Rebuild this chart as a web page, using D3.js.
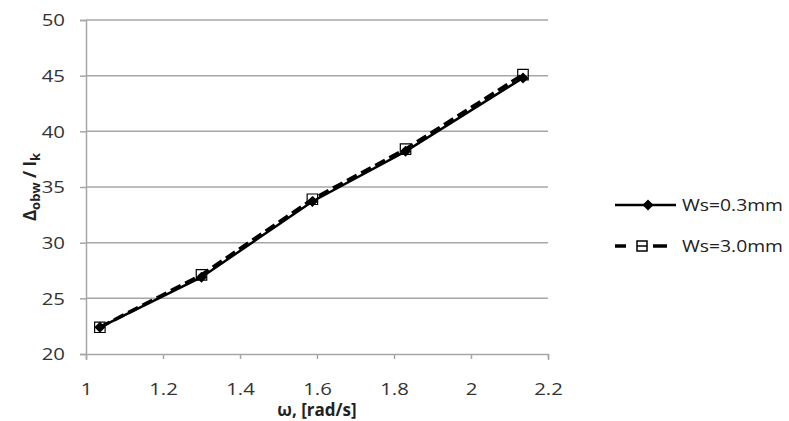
<!DOCTYPE html>
<html>
<head>
<meta charset="utf-8">
<script src="https://cdn.jsdelivr.net/npm/d3@7"></script>
<style>
  body { margin: 0; background: #fff; }
  text { font-family: "Open Sans", "DejaVu Sans", sans-serif; }
</style>
</head>
<body>
<div id="chart"></div>
<script>
const omega = [1.036, 1.30, 1.588, 1.83, 2.135];
const ws03 = [22.4, 26.9, 33.7, 38.2, 44.8];
const ws30 = [22.4, 27.1, 33.9, 38.4, 45.1];
const xTicks = [1, 1.2, 1.4, 1.6, 1.8, 2, 2.2];
const yTicks = [20, 25, 30, 35, 40, 45, 50];
const seriesNames = ["Ws=0.3mm", "Ws=3.0mm"];

const W = 789, H = 421;
const margin = { top: 20, left: 86, right: 241, bottom: 67 };
const width = W - margin.left - margin.right;
const height = H - margin.top - margin.bottom;

const svg = d3.select("#chart").append("svg")
  .attr("width", W).attr("height", H);

const g = svg.append("g")
  .attr("transform", `translate(${margin.left},${margin.top})`);

const x = d3.scaleLinear().domain([1, 2.2]).range([0, width]);
const y = d3.scaleLinear().domain([20, 50]).range([height, 0]);

// gridlines
g.selectAll(".grid")
  .data(yTicks.slice(1))
  .enter().append("line")
  .attr("x1", 0).attr("x2", width)
  .attr("y1", d => y(d)).attr("y2", d => y(d))
  .attr("stroke", "#a6a6a6").attr("stroke-width", 1.5);

const xAxis = g.append("g")
  .attr("transform", `translate(0,${height})`)
  .call(d3.axisBottom(x).tickValues(xTicks).tickFormat(d3.format("")).tickSize(6));
const yAxis = g.append("g")
  .call(d3.axisLeft(y).tickValues(yTicks).tickSize(6));

[xAxis, yAxis].forEach(a => {
  a.select(".domain").attr("stroke", "#a6a6a6").attr("stroke-width", 1.5);
  a.selectAll(".tick line").attr("stroke", "#a6a6a6").attr("stroke-width", 1.5);
  a.selectAll(".tick text").attr("fill", "#333").style("font-size", "17px");
});
xAxis.selectAll(".tick line").attr("y1", 0).attr("y2", 5);
yAxis.selectAll(".tick line").attr("x1", 0).attr("x2", -6);
// stretched Excel-like labels
xAxis.selectAll(".tick text").attr("y", 0).attr("dy", 0)
  .attr("transform", "translate(0,41) scale(1.2,1)");
yAxis.selectAll(".tick text").attr("x", 0).attr("dy", "0.35em")
  .attr("transform", "translate(-21,0) scale(1.2,1)");

const line = d3.line().x(d => x(d[0])).y(d => y(d[1]));

const data1 = omega.map((o, i) => [o, ws03[i]]);
const data2 = omega.map((o, i) => [o, ws30[i]]);

g.append("path").datum(data2).attr("d", line)
  .attr("fill", "none").attr("stroke", "#000").attr("stroke-width", 3.5)
  .attr("stroke-dasharray", "11,5");
g.append("path").datum(data1).attr("d", line)
  .attr("fill", "none").attr("stroke", "#000").attr("stroke-width", 2.5);

const sq = d3.symbol().type(d3.symbolSquare).size(110);
const dia = "M0,-5.5L5.5,0L0,5.5L-5.5,0Z";

g.selectAll(".sq").data(data2).enter().append("path")
  .attr("d", sq)
  .attr("transform", d => `translate(${x(d[0])},${y(d[1])})`)
  .attr("fill", "none").attr("stroke", "#000").attr("stroke-width", 1.2);
g.selectAll(".dia").data(data1).enter().append("path")
  .attr("d", dia)
  .attr("transform", d => `translate(${x(d[0])},${y(d[1])})`)
  .attr("fill", "#000");

// axis titles
svg.append("text")
  .attr("x", margin.left + x(1.6)).attr("y", 416)
  .attr("text-anchor", "middle")
  .style("font-size", "17px").style("font-weight", "bold").attr("fill", "#222")
  .text("ω, [rad/s]");

const yl = svg.append("text")
  .attr("transform", "translate(36,187) rotate(-90)")
  .attr("text-anchor", "middle")
  .style("font-size", "17px").style("font-weight", "bold").attr("fill", "#222");
yl.append("tspan").text("Δ");
yl.append("tspan").attr("dy", 4).style("font-size", "13px").text("obw");
yl.append("tspan").attr("dy", -4).text(" / I");
yl.append("tspan").attr("dy", 4).style("font-size", "13px").text("k");

// legend
const leg = svg.append("g").attr("transform", "translate(615,0)");
const legY = [205, 246];
leg.append("line").attr("x1", 0).attr("x2", 61).attr("y1", legY[0]).attr("y2", legY[0])
  .attr("stroke", "#000").attr("stroke-width", 2.5);
leg.append("path").attr("d", dia).attr("transform", `translate(33,${legY[0]})`).attr("fill", "#000");
leg.append("line").attr("x1", 0).attr("x2", 52).attr("y1", legY[1]).attr("y2", legY[1])
  .attr("stroke", "#000").attr("stroke-width", 3.5).attr("stroke-dasharray", "11,27,14");
leg.append("rect").attr("x", 22).attr("y", legY[1] - 5).attr("width", 10).attr("height", 10)
  .attr("fill", "none").attr("stroke", "#000").attr("stroke-width", 1.5);
leg.append("line").attr("x1", 22).attr("x2", 32).attr("y1", legY[1]).attr("y2", legY[1])
  .attr("stroke", "#000").attr("stroke-width", 1.5);
leg.selectAll(".lt").data(seriesNames).enter().append("text")
  .attr("x", 67).attr("y", (d, i) => legY[i] + 6)
  .attr("textLength", 101).attr("lengthAdjust", "spacingAndGlyphs")
  .style("font-size", "17px").attr("fill", "#222")
  .text(d => d);
</script>
</body>
</html>
